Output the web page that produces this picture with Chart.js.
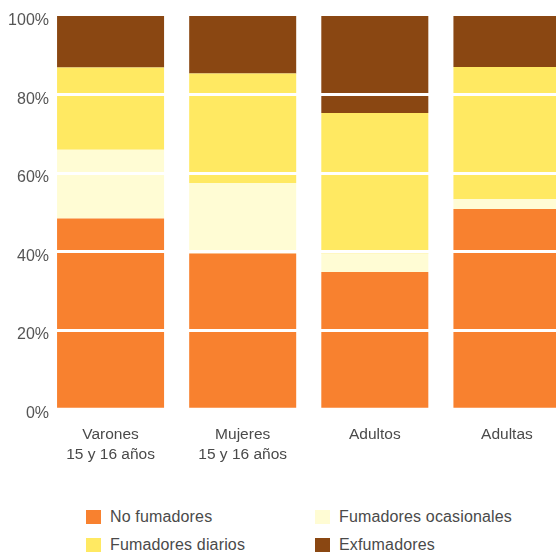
<!DOCTYPE html>
<html>
<head>
<meta charset="utf-8">
<script src="https://cdn.jsdelivr.net/npm/chart.js@4/dist/chart.umd.min.js"></script>
<style>
  html, body { margin: 0; padding: 0; background: #fff; overflow: hidden; width: 556px; height: 553px; }
  #wrap { position: relative; width: 556px; height: 553px; }
  #tabacoChart { position: absolute; left: 0; top: 0; }
  #legend { position: absolute; left: 86px; top: 503px; display: grid; grid-template-columns: 229px 229px; grid-auto-rows: 28px;
            font-family: "Liberation Sans", Arial, sans-serif; font-size: 16px; color: #4a4a4a; letter-spacing: 0.15px; }
  #legend .item { display: flex; align-items: center; }
  #legend .box { width: 15px; height: 14px; margin-right: 9px; }
</style>
</head>
<body>
<div id="wrap">
  <canvas id="tabacoChart" width="573" height="490"></canvas>
  <div id="legend"></div>
</div>
<script>
const categorias = [['Varones', '15 y 16 años'], ['Mujeres', '15 y 16 años'], 'Adultos', 'Adultas'];
const noFumadores = [48.5, 39.6, 34.9, 50.9];
const ocasionales = [17.5, 17.9, 4.7, 2.5];
const diarios = [20.9, 27.9, 35.7, 33.6];
const exfumadores = [13.1, 14.6, 24.7, 13.0];
const yTicks = [0, 20, 40, 60, 80, 100];

const ctx = document.getElementById('tabacoChart').getContext('2d');
const data = {
    labels: categorias,
    datasets: [{
        label: 'No fumadores',
        data: noFumadores,
        backgroundColor: '#F8812F'
    },
        {
            label: 'Fumadores ocasionales',
            data: ocasionales,
            backgroundColor: '#FFFCD4'
        },
        {
            label: 'Fumadores diarios',
            data: diarios,
            backgroundColor: '#FFE962'
        },
        {
            label: 'Exfumadores',
            data: exfumadores,
            backgroundColor: '#8A4712'
        }
    ]
};

const myChart = new Chart(ctx, {
    type: 'bar',
    data: data,
    options: {
        responsive: false,
        animation: false,
        layout: { padding: { top: 16, right: 0, bottom: 10.5, left: 0 } },
        datasets: { bar: { categoryPercentage: 1, barPercentage: 0.81, borderWidth: 0 } },
        plugins: {
            legend: { display: false },
            tooltip: { enabled: false }
        },
        scales: {
            x: {
                stacked: true,
                grid: { display: false, drawTicks: false },
                border: { display: false },
                ticks: {
                    padding: 15,
                    color: '#4a4a4a',
                    font: { family: '"Liberation Sans", Arial, sans-serif', size: 15.5, lineHeight: 1.3 }
                }
            },
            y: {
                stacked: true,
                min: 0,
                max: 100,
                afterFit: function (scale) { scale.width = 44.5; },
                afterBuildTicks: function (scale) { scale.ticks = yTicks.map(v => ({ value: v })); },
                grid: {
                    z: 1,
                    drawTicks: false,
                    lineWidth: 3,
                    color: c => (c.tick && (c.tick.value === 0 || c.tick.value === 100)) ? 'rgba(0,0,0,0)' : '#ffffff'
                },
                border: { display: false },
                ticks: {
                    mirror: true,
                    crossAlign: 'far',
                    padding: -36.4,
                    color: '#555555',
                    font: { family: '"Liberation Sans", Arial, sans-serif', size: 16, lineHeight: 0.56 },
                    callback: v => ['', v + '%']
                }
            }
        }
    }
});

// html legend from the chart's own legend items
const legendBox = document.getElementById('legend');
const items = myChart.options.plugins.legend.labels.generateLabels(myChart);
items.forEach(it => {
    const el = document.createElement('div');
    el.className = 'item';
    const box = document.createElement('span');
    box.className = 'box';
    box.style.background = it.fillStyle;
    const txt = document.createElement('span');
    txt.textContent = it.text;
    el.appendChild(box);
    el.appendChild(txt);
    legendBox.appendChild(el);
});
</script>
</body>
</html>
